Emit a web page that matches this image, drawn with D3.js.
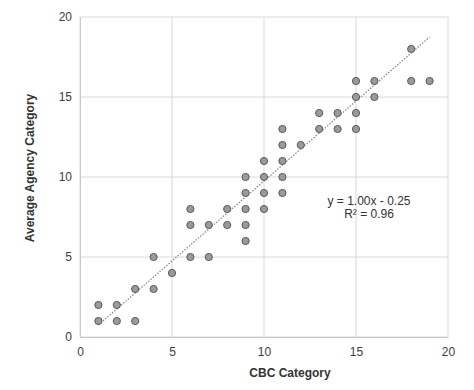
<!DOCTYPE html>
<html>
<head>
<meta charset="utf-8">
<script src="https://cdn.jsdelivr.net/npm/d3@7"></script>
<style>
  body { margin: 0; background: #fff; }
  text { font-family: "Liberation Sans", Arial, sans-serif; }
</style>
</head>
<body>
<svg id="chart" width="474" height="390"></svg>
<script>
// CBC category vs average agency category
const cbc = [1, 1, 2, 2, 3, 3, 4, 4, 5,
  6, 6, 6, 7, 7, 8, 8,
  9, 9, 9, 9, 9,
  10, 10, 10, 10,
  11, 11, 11, 11, 11,
  12, 13, 13, 14, 14,
  15, 15, 15, 15, 16, 16,
  18, 18, 19];
const agency = [1, 2, 1, 2, 1, 3, 3, 5, 4,
  5, 7, 8, 5, 7, 7, 8,
  6, 7, 8, 9, 10,
  8, 9, 10, 11,
  9, 10, 11, 12, 13,
  12, 13, 14, 13, 14,
  13, 14, 15, 16, 15, 16,
  16, 18, 16];
const ticks = [0, 5, 10, 15, 20];
const slope = 1.00, intercept = -0.25;
const eqLabels = ["y = 1.00x - 0.25", "R\u00b2 = 0.96"];

const svg = d3.select("#chart");
const m = { left: 80, right: 26, top: 17, bottom: 53 };
const W = 474, H = 390;

const x = d3.scaleLinear().domain([0, 20]).range([m.left, W - m.right]);
const y = d3.scaleLinear().domain([0, 20]).range([H - m.bottom, m.top]);

// gridlines
const grid = svg.append("g");
grid.selectAll("line.gx").data(ticks).join("line")
  .attr("x1", d => x(d)).attr("x2", d => x(d))
  .attr("y1", y(0)).attr("y2", y(20))
  .attr("stroke", "#d9d9d9").attr("stroke-width", 1);
grid.selectAll("line.gy").data(ticks).join("line")
  .attr("y1", d => y(d)).attr("y2", d => y(d))
  .attr("x1", x(0)).attr("x2", x(20))
  .attr("stroke", "#d9d9d9").attr("stroke-width", 1);

// axes
const xAxis = svg.append("g")
  .attr("transform", `translate(0,${y(0)})`)
  .call(d3.axisBottom(x).tickValues(ticks).tickSize(0).tickPadding(8));
const yAxis = svg.append("g")
  .attr("transform", `translate(${x(0)},0)`)
  .call(d3.axisLeft(y).tickValues(ticks).tickSize(0).tickPadding(8));
[xAxis, yAxis].forEach(g => {
  g.select(".domain").attr("stroke", "#c8c8c8");
  g.selectAll("text").attr("font-size", 12).attr("fill", "#404040")
    .attr("font-family", "Liberation Sans, Arial, sans-serif");
});
xAxis.selectAll("text").attr("dy", "0.9em");

// trendline
const tx = d3.extent(cbc);
svg.append("line")
  .attr("x1", x(tx[0])).attr("y1", y(slope * tx[0] + intercept))
  .attr("x2", x(tx[1])).attr("y2", y(slope * tx[1] + intercept))
  .attr("stroke", "#7f8fa6").attr("stroke-width", 1.3)
  .attr("stroke-dasharray", "1.5,1.5");

// points
svg.append("g").selectAll("circle").data(cbc).join("circle")
  .attr("cx", d => x(d))
  .attr("cy", (d, i) => y(agency[i]))
  .attr("r", 3.6)
  .attr("fill", "#9a9a9a")
  .attr("stroke", "#5a5a5a")
  .attr("stroke-width", 1);

// equation
svg.append("g").selectAll("text").data(eqLabels).join("text")
  .attr("x", 369).attr("y", (d, i) => 205 + i * 13)
  .attr("text-anchor", "middle")
  .attr("font-size", 12).attr("fill", "#333")
  .text(d => d);

// axis titles
svg.append("text")
  .attr("x", 290).attr("y", 377)
  .attr("text-anchor", "middle")
  .attr("font-size", 12).attr("font-weight", "bold").attr("fill", "#333")
  .text("CBC Category");
svg.append("text")
  .attr("transform", "translate(34,168) rotate(-90)")
  .attr("text-anchor", "middle")
  .attr("font-size", 12).attr("font-weight", "bold").attr("fill", "#333")
  .text("Average Agency Category");
</script>
</body>
</html>
